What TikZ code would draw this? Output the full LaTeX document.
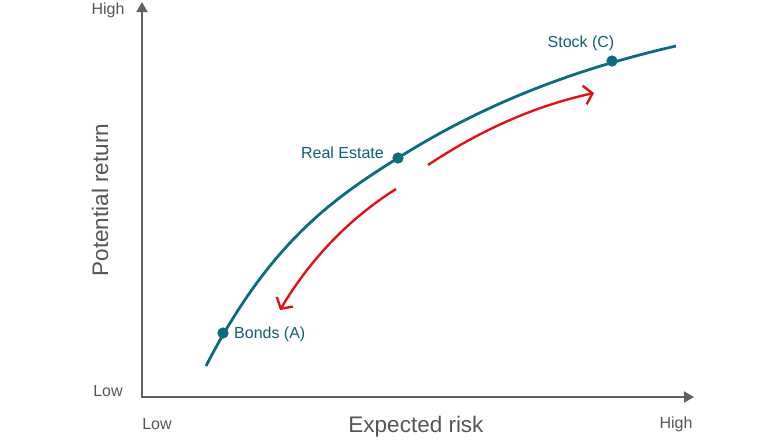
\documentclass[tikz,border=0pt]{standalone}
\usepackage{fontspec}
\setmainfont{Liberation Sans}
\usetikzlibrary{arrows.meta}
\definecolor{axisgray}{HTML}{5F6068}
\definecolor{txtgray}{HTML}{555559}
\definecolor{teal}{HTML}{0B6B80}
\definecolor{tealtxt}{HTML}{0E5F73}
\definecolor{redarr}{HTML}{E01414}
\tikzset{
  axis/.style={draw=axisgray, line width=2pt, -{Triangle[length=10pt,width=11pt]}},
  curve/.style={draw=teal, line width=2.8pt},
  dot/.style={circle, fill=teal, inner sep=0pt, minimum size=11pt},
  redarrow/.style={draw=redarr, line width=2.4pt, -{Straight Barb[length=8pt,width=19pt,line width=2.4pt]}},
  ticklab/.style={text=txtgray, font=\fontsize{16}{19}\selectfont, inner sep=0pt},
  axlab/.style={text=txtgray, font=\fontsize{22.5}{26}\selectfont, inner sep=0pt},
  ptlab/.style={text=tealtxt, font=\fontsize{16}{19}\selectfont, inner sep=0pt}
}
\begin{document}
\begin{tikzpicture}[x=1pt,y=-1pt]
\useasboundingbox (0,0) rectangle (782,440);
\coordinate (o) at (142,397);
\coordinate (ytip) at (142,2);
\coordinate (xtip) at (694,397);
\draw[axis] (o) -- (ytip);
\draw[axis] ([xshift=-1pt]o) -- (xtip);
\node[ticklab] (yhigh) at (108,10) {High};
\node[ticklab] (ylow) at (108,391) {Low};
\node[ticklab] (xlow) at (157,424) {Low};
\node[ticklab] (xhigh) at (676,424) {High};
\node[axlab] (xlab) at (416,427) {Expected risk};
\node[axlab, rotate=90] (ylab) at (100,200) {Potential return};
\coordinate (cs) at (206,366);
\coordinate (ce) at (676,46);
\node[dot] (a) at (223,333) {};
\node[dot] (b) at (398,158) {};
\node[dot] (c) at (612,61) {};
\draw[curve] (cs) .. controls (270,242) and (334,198) .. (b.center)
  .. controls (491,99.4) and (583,67.4) .. (ce);
\node[dot] at (a) {};
\node[dot] at (b) {};
\node[dot] at (c) {};
\node[ptlab, anchor=west] (alab) at (234,334) {Bonds (A)};
\node[ptlab, anchor=east] (blab) at (384,153) {Real Estate};
\node[ptlab] (clab) at (581,43) {Stock (C)};
\coordinate (r1s) at (428,165);
\coordinate (r1e) at (594,93);
\coordinate (r2s) at (396,189);
\coordinate (r2e) at (280,310);
\draw[redarrow] (r1s) .. controls (479,131) and (534,106) .. (r1e);
\draw[redarrow] (r2s) .. controls (350,218) and (311,258) .. (r2e);
\end{tikzpicture}
\end{document}
